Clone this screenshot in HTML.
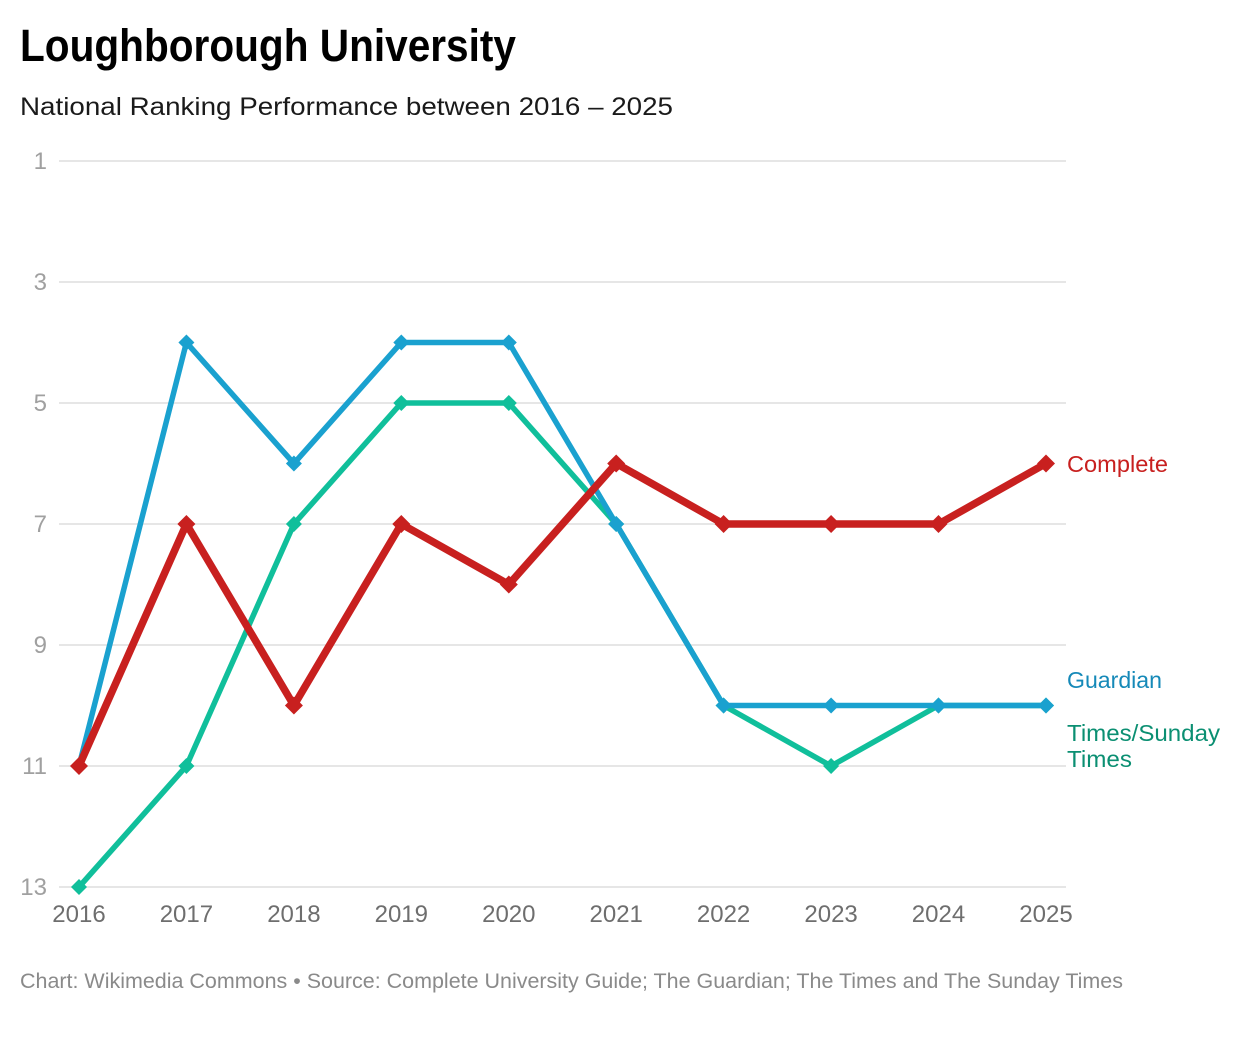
<!DOCTYPE html>
<html>
<head>
<meta charset="utf-8">
<style>
  html, body { margin: 0; padding: 0; background: #ffffff; }
  body { width: 1240px; height: 1040px; overflow: hidden; }
  svg { display: block; font-family: "Liberation Sans", sans-serif; }
</style>
</head>
<body>
<svg width="1240" height="1040" viewBox="0 0 1240 1040" xmlns="http://www.w3.org/2000/svg">
  <rect x="0" y="0" width="1240" height="1040" fill="#ffffff"/>

  <!-- Title -->
  <text x="20" y="61" font-size="45" font-weight="bold" fill="#000000" textLength="496" lengthAdjust="spacingAndGlyphs">Loughborough University</text>
  <text x="20" y="115" font-size="25" fill="#1a1a1a" textLength="653" lengthAdjust="spacingAndGlyphs">National Ranking Performance between 2016 – 2025</text>

  <!-- Grid -->
  <g stroke="#e6e6e6" stroke-width="2">
    <line x1="59" y1="161" x2="1066" y2="161"/>
    <line x1="59" y1="282" x2="1066" y2="282"/>
    <line x1="59" y1="403" x2="1066" y2="403"/>
    <line x1="59" y1="524" x2="1066" y2="524"/>
    <line x1="59" y1="645" x2="1066" y2="645"/>
    <line x1="59" y1="766" x2="1066" y2="766"/>
    <line x1="59" y1="887" x2="1066" y2="887"/>
  </g>

  <!-- Y labels -->
  <g font-size="24" fill="#a0a0a0" text-anchor="end">
    <text x="47" y="169">1</text>
    <text x="47" y="290">3</text>
    <text x="47" y="411">5</text>
    <text x="47" y="532">7</text>
    <text x="47" y="653">9</text>
    <text x="47" y="774">11</text>
    <text x="47" y="895">13</text>
  </g>

  <!-- X labels -->
  <g font-size="24" fill="#6e6e6e" text-anchor="middle">
    <text x="79" y="922">2016</text>
    <text x="186.4" y="922">2017</text>
    <text x="293.9" y="922">2018</text>
    <text x="401.3" y="922">2019</text>
    <text x="508.8" y="922">2020</text>
    <text x="616.2" y="922">2021</text>
    <text x="723.6" y="922">2022</text>
    <text x="831.1" y="922">2023</text>
    <text x="938.5" y="922">2024</text>
    <text x="1046" y="922">2025</text>
  </g>

  <!-- Times/Sunday Times (teal) -->
  <g>
    <polyline fill="none" stroke="#10bf9b" stroke-width="5.5" stroke-linejoin="round"
      points="79,887 186.4,766 293.9,524 401.3,403 508.8,403 616.2,524 723.6,705.5 831.1,766 938.5,705.5 1046,705.5"/>
    <g fill="#10bf9b">
      <polygon points="79,879 87,887 79,895 71,887"/>
      <polygon points="186.4,758 194.4,766 186.4,774 178.4,766"/>
      <polygon points="293.9,516 301.9,524 293.9,532 285.9,524"/>
      <polygon points="401.3,395 409.3,403 401.3,411 393.3,403"/>
      <polygon points="508.8,395 516.8,403 508.8,411 500.8,403"/>
      <polygon points="616.2,516 624.2,524 616.2,532 608.2,524"/>
      <polygon points="723.6,697.5 731.6,705.5 723.6,713.5 715.6,705.5"/>
      <polygon points="831.1,758 839.1,766 831.1,774 823.1,766"/>
      <polygon points="938.5,697.5 946.5,705.5 938.5,713.5 930.5,705.5"/>
      <polygon points="1046,697.5 1054,705.5 1046,713.5 1038,705.5"/>
    </g>
  </g>

  <!-- Guardian (blue) -->
  <g>
    <polyline fill="none" stroke="#1aa1cf" stroke-width="5.5" stroke-linejoin="round"
      points="79,766 186.4,342.5 293.9,463.5 401.3,342.5 508.8,342.5 616.2,524 723.6,705.5 831.1,705.5 938.5,705.5 1046,705.5"/>
    <g fill="#1aa1cf">
      <polygon points="79,758 87,766 79,774 71,766"/>
      <polygon points="186.4,334.5 194.4,342.5 186.4,350.5 178.4,342.5"/>
      <polygon points="293.9,455.5 301.9,463.5 293.9,471.5 285.9,463.5"/>
      <polygon points="401.3,334.5 409.3,342.5 401.3,350.5 393.3,342.5"/>
      <polygon points="508.8,334.5 516.8,342.5 508.8,350.5 500.8,342.5"/>
      <polygon points="616.2,516 624.2,524 616.2,532 608.2,524"/>
      <polygon points="723.6,697.5 731.6,705.5 723.6,713.5 715.6,705.5"/>
      <polygon points="831.1,697.5 839.1,705.5 831.1,713.5 823.1,705.5"/>
      <polygon points="938.5,697.5 946.5,705.5 938.5,713.5 930.5,705.5"/>
      <polygon points="1046,697.5 1054,705.5 1046,713.5 1038,705.5"/>
    </g>
  </g>

  <!-- Complete (red) -->
  <g>
    <polyline fill="none" stroke="#c8201f" stroke-width="7.5" stroke-linejoin="round"
      points="79,766 186.4,524 293.9,705.5 401.3,524 508.8,584.5 616.2,463.5 723.6,524 831.1,524 938.5,524 1046,463.5"/>
    <g fill="#c8201f">
      <polygon points="79,757 88,766 79,775 70,766"/>
      <polygon points="186.4,515 195.4,524 186.4,533 177.4,524"/>
      <polygon points="293.9,696.5 302.9,705.5 293.9,714.5 284.9,705.5"/>
      <polygon points="401.3,515 410.3,524 401.3,533 392.3,524"/>
      <polygon points="508.8,575.5 517.8,584.5 508.8,593.5 499.8,584.5"/>
      <polygon points="616.2,454.5 625.2,463.5 616.2,472.5 607.2,463.5"/>
      <polygon points="723.6,515 732.6,524 723.6,533 714.6,524"/>
      <polygon points="831.1,515 840.1,524 831.1,533 822.1,524"/>
      <polygon points="938.5,515 947.5,524 938.5,533 929.5,524"/>
      <polygon points="1046,454.5 1055,463.5 1046,472.5 1037,463.5"/>
    </g>
  </g>

  <!-- Series labels -->
  <text x="1067" y="472" font-size="23" fill="#c8201f" textLength="101" lengthAdjust="spacingAndGlyphs">Complete</text>
  <text x="1067" y="688" font-size="23" fill="#1589b8" textLength="95" lengthAdjust="spacingAndGlyphs">Guardian</text>
  <text x="1067" y="741" font-size="23" fill="#0b8f72" textLength="153" lengthAdjust="spacingAndGlyphs">Times/Sunday</text>
  <text x="1067" y="767" font-size="23" fill="#0b8f72" textLength="65" lengthAdjust="spacingAndGlyphs">Times</text>

  <!-- Footer -->
  <text x="20" y="988" font-size="21" fill="#8a8a8a" textLength="1103" lengthAdjust="spacingAndGlyphs">Chart: Wikimedia Commons • Source: Complete University Guide; The Guardian; The Times and The Sunday Times</text>
</svg>
</body>
</html>
